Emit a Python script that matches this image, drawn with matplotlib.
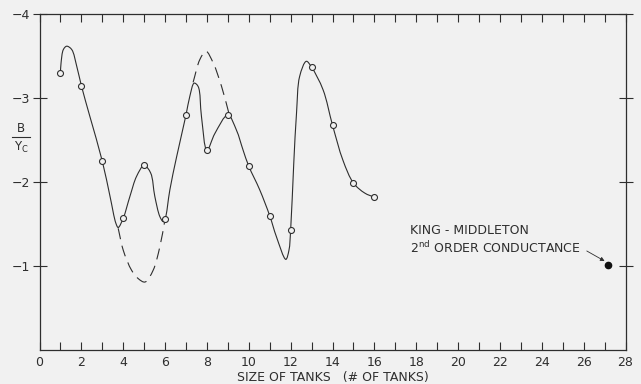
import numpy as np
import matplotlib
matplotlib.use("Agg")
import matplotlib.pyplot as plt
from matplotlib.path import Path
from matplotlib.patches import PathPatch
from matplotlib.lines import Line2D

# measured points (open circles)
tanks = [1, 2, 3, 4, 5, 6, 7, 8, 9, 10, 11, 12, 13, 14, 15, 16]
b_over_yc = [-3.30, -3.15, -2.25, -1.57, -2.20, -1.56, -2.80, -2.38,
             -2.80, -2.19, -1.60, -1.43, -3.37, -2.68, -1.99, -1.82]

# hand-drawn solid curve
curve_x = [1, 1.03, 1.14, 1.30, 1.54, 1.78, 2, 2.41, 3, 3.37, 3.65, 3.76,
           4, 4.32, 4.64, 5, 5.31, 5.51, 5.75, 5.91, 6, 6.23, 6.55, 7,
           7.18, 7.39, 7.58, 7.74, 8, 8.38, 9, 9.41, 9.73, 10, 10.52, 11,
           11.32, 11.77, 11.92, 12, 12.15, 12.28, 12.43, 12.75, 13, 13.55,
           14, 14.50, 15, 15.54, 16]
curve_y = [-3.30, -3.42, -3.58, -3.62, -3.58, -3.38, -3.15, -2.78, -2.25,
           -1.83, -1.51, -1.46, -1.57, -1.83, -2.07, -2.20, -2.11, -1.83,
           -1.59, -1.53, -1.56, -1.91, -2.30, -2.80, -3.02, -3.18, -3.14,
           -2.78, -2.38, -2.58, -2.80, -2.62, -2.38, -2.19, -1.91, -1.60,
           -1.35, -1.08, -1.19, -1.43, -2.23, -2.82, -3.26, -3.44, -3.37,
           -3.10, -2.68, -2.26, -1.99, -1.87, -1.82]

# dashed alternative curves
dash1_x = [3.76, 4.00, 4.40, 4.72, 5.04, 5.43, 5.75, 6.0]
dash1_y = [-1.45, -1.19, -0.95, -0.85, -0.81, -0.95, -1.23, -1.56]
dash2_x = [7.34, 7.66, 7.95, 8.30, 8.70, 9.05]
dash2_y = [-3.19, -3.46, -3.56, -3.42, -3.14, -2.82]

# King-Middleton reference point
km_x = 27.18
km_y = -1.01

ink = "#2e2e2e"
bg = "#f1f1f1"
SX, SY = 20.95, 83.9  # px per unit, so the curve bends like the drawing


def smooth(xs, ys):
    # centripetal catmull-rom, handed to matplotlib as cubic beziers
    pts = np.column_stack([np.array(xs) * SX, np.array(ys) * SY])
    p = np.vstack([2 * pts[0] - pts[1], pts, 2 * pts[-1] - pts[-2]])
    verts = [pts[0]]
    codes = [Path.MOVETO]
    for i in range(1, len(p) - 2):
        p0, p1, p2, p3 = p[i - 1], p[i], p[i + 1], p[i + 2]
        d1 = np.linalg.norm(p1 - p0) ** 0.5
        d2 = np.linalg.norm(p2 - p1) ** 0.5
        d3 = np.linalg.norm(p3 - p2) ** 0.5
        b1 = (d1**2 * p2 - d2**2 * p0 + (2 * d1**2 + 3 * d1 * d2 + d2**2) * p1) / (3 * d1 * (d1 + d2))
        b2 = (d3**2 * p1 - d2**2 * p3 + (2 * d3**2 + 3 * d3 * d2 + d2**2) * p2) / (3 * d3 * (d3 + d2))
        verts += [b1, b2, p2]
        codes += [Path.CURVE4] * 3
    verts = np.array(verts) / [SX, SY]
    return Path(verts, codes)


fig = plt.figure(figsize=(6.41, 3.84), dpi=100, facecolor=bg)
ax = fig.add_axes([39.5 / 641, 34 / 384, 586 / 641, 335.7 / 384], facecolor=bg)

ax.add_patch(PathPatch(smooth(curve_x, curve_y), fill=False, ec=ink, lw=0.8))
ax.add_patch(PathPatch(smooth(dash1_x, dash1_y), fill=False, ec=ink, lw=0.8,
                       ls=(0, (10, 6))))
ax.add_patch(PathPatch(smooth(dash2_x, dash2_y), fill=False, ec=ink, lw=0.8,
                       ls=(0, (10, 6))))
ax.plot(tanks, b_over_yc, ls="none", marker="o", ms=4.3, mfc=bg, mec=ink,
        mew=0.8, zorder=5)
ax.plot([km_x], [km_y], "o", ms=4.5, color="#111", zorder=5)

ax.annotate("", xy=(km_x - 0.18, km_y - 0.05), xytext=(26.15, -1.18),
            arrowprops=dict(arrowstyle="-|>", color=ink, lw=0.6,
                            mutation_scale=6, shrinkA=0, shrinkB=0))
ax.text(17.68, -1.42, "KING - MIDDLETON", fontsize=9, color=ink,
        va="center", ha="left")
ax.text(17.68, -1.22, "2$^{\\rm nd}$ ORDER CONDUCTANCE", fontsize=9, color=ink,
        va="center", ha="left")

ax.set_xlim(0, 28)
ax.set_ylim(0, -4)

ax.set_xticks(range(0, 29, 2))
ax.set_xticklabels([str(v) for v in range(0, 29, 2)], fontsize=9, color=ink)
ax.set_xticks(range(1, 28), minor=True)
ax.tick_params(axis="x", which="both", direction="in", length=6, width=0.8,
               color=ink, top=True, pad=4)
ax.set_yticks([-1, -2, -3, -4])
ax.set_yticklabels(["\u22121", "\u22122", "\u22123", "\u22124"], fontsize=9,
                   color=ink)
ax.tick_params(axis="y", direction="inout", length=10, width=0.8, color=ink,
               right=True, pad=2)
for s in ax.spines.values():
    s.set_color(ink)
    s.set_linewidth(0.9)

ax.set_xlabel("SIZE OF TANKS   (# OF TANKS)", fontsize=9, color=ink, labelpad=2)

# B / Yc label as a fraction
fig.text(21 / 641, 1 - 129 / 384, "B", fontsize=8.5, color=ink, ha="center",
         va="center")
fig.add_artist(Line2D([12 / 641, 30 / 641], [1 - 137 / 384, 1 - 137 / 384],
                      color=ink, lw=0.8))
fig.text(21 / 641, 1 - 147 / 384, "Y$_{\\rm C}$", fontsize=8.5, color=ink,
         ha="center", va="center")

fig.savefig("out.png", dpi=100, facecolor=bg)
